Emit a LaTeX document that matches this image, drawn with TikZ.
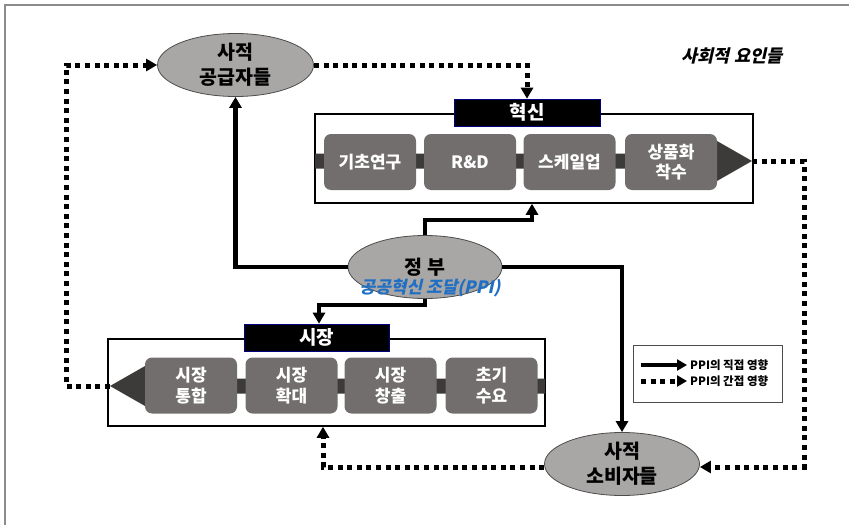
\documentclass[tikz,border=0pt]{standalone}
\usepackage{fontspec}
\setmainfont{Noto Sans CJK KR}
\newfontfamily\slfont{Noto Sans CJK KR}[FakeSlant=0.22]
\usetikzlibrary{shapes.geometric,arrows.meta,calc}
\definecolor{ellfill}{HTML}{A9A6A6}
\definecolor{boxfill}{HTML}{736E6E}
\definecolor{bandcol}{HTML}{3D3A3A}
\definecolor{pblue}{HTML}{1F70C4}
\definecolor{framegray}{HTML}{8C8C8C}
\begin{document}
\begin{tikzpicture}[x=1pt,y=-1pt,
 actor/.style={ellipse, draw=black!70, line width=0.8pt, fill=ellfill, minimum width=156pt, minimum height=63pt, inner sep=0pt, align=center, font=\fontsize{19.5}{25}\selectfont\bfseries},
 stage/.style={rounded corners=7pt, fill=boxfill, minimum width=92pt, minimum height=56pt, inner sep=0pt, align=center, text=white, font=\fontsize{17}{20.5}\selectfont\bfseries},
 titlebox/.style={fill=black, draw=black!50!blue, line width=0.6pt, minimum width=146pt, minimum height=27pt, inner sep=0pt, text=white, font=\fontsize{19}{20}\selectfont\bfseries},
 group/.style={draw=black, line width=1.5pt, inner sep=0pt},
 direct/.style={line width=4.5pt, line join=miter, -{Triangle[length=11pt,width=12pt]}},
 indirect/.style={line width=5pt, dash pattern=on 5pt off 4.6pt, -{Triangle[length=11pt,width=12pt]}},
 legtext/.style={anchor=west, inner sep=0pt, font=\fontsize{11.5}{13}\selectfont\bfseries},
]
\useasboundingbox (0,0) rectangle (849,525);
% outer frame (left and top only visible)
\draw[framegray, line width=2pt] (5,525) -- (5,5) -- (849,5);

% innovation group
\node[group, minimum width=438pt, minimum height=89pt] (innov) at (534,158.5) {};
\fill[bandcol] (315,153.5) -- (717,153.5) -- (717,141) -- (752,161) -- (717,181) -- (717,168.5) -- (315,168.5) -- cycle;
\coordinate (innovtip) at (752,161);
\node[stage] (s1) at (370,162) {기초연구};
\node[stage] (s2) at (470,162) {R\&D};
\node[stage] (s3) at (569.5,162) {스케일업};
\node[stage] (s4) at (671,162) {상품화\\착수};
\node[titlebox] (innovtitle) at (527,112.5) {혁신};

% market group
\node[group, minimum width=437pt, minimum height=87pt] (market) at (326.5,382.5) {};
\fill[bandcol] (545,378.5) -- (145,378.5) -- (145,366) -- (110,386) -- (145,406) -- (145,393.5) -- (545,393.5) -- cycle;
\coordinate (markettip) at (110,386);
\node[stage] (m1) at (191,385.5) {시장\\통합};
\node[stage] (m2) at (291.5,385.5) {시장\\확대};
\node[stage] (m3) at (390.5,385.5) {시장\\창출};
\node[stage] (m4) at (491.5,385.5) {초기\\수요};
\node[titlebox, minimum width=145pt] (markettitle) at (316.5,337.5) {시장};

% actors
\node[actor] (supplier) at (235.5,65) {사적\\공급자들};
\node[actor, minimum width=154pt] (gov) at (425,267) {정 부};
\node[actor, minimum width=155pt] (consumers) at (622,464) {사적\\소비자들};
\node[font=\fontsize{17}{18}\selectfont\slfont\bfseries, text=pblue, inner sep=0pt] (ppi) at (430,288) {공공혁신 조달(PPI)};
\node[font=\fontsize{17.5}{18}\selectfont\slfont\bfseries, inner sep=0pt] (social) at (732,56) {사회적 요인들};

% direct connectors
\coordinate (g2i) at (532,220);
\coordinate (g2m) at (319,305);
\draw[direct] (gov.west) -| (supplier.south);
\draw[direct] (gov.north) |- (g2i) -- (g2i |- innov.south);
\draw[direct] (gov.south) |- (g2m) -- (g2m |- markettitle.north);
\draw[direct] (gov.east) -| (consumers.north);

% indirect connectors
\coordinate (i2c) at (804,467);
\coordinate (c2m) at (323,467);
\coordinate (m2s) at (66,386);
\draw[indirect] (supplier.east) -| (innovtitle.north);
\draw[indirect] (innovtip) -| (i2c) -- (consumers.east |- i2c);
\draw[indirect] (consumers.west |- c2m) -- (c2m) -- (c2m |- market.south);
\draw[indirect] (markettip) -- (m2s) |- (supplier.west);

% legend
\node[draw=black!70, line width=0.8pt, minimum width=149pt, minimum height=57pt, inner sep=0pt] (legend) at (708,373.5) {};
\coordinate (l1a) at (641,365);
\coordinate (l1b) at (687,365);
\coordinate (l2a) at (641,381);
\coordinate (l2b) at (687,381);
\draw[line width=4.5pt, -{Triangle[length=10pt,width=11pt]}] (l1a) -- (l1b);
\draw[line width=5pt, dash pattern=on 5pt off 4.6pt, -{Triangle[length=10pt,width=11pt]}] (l2a) -- (l2b);
\node[legtext] (lt1) at (690,365) {PPI의 직접 영향};
\node[legtext] (lt2) at (690,381) {PPI의 간접 영향};
\end{tikzpicture}
\end{document}
